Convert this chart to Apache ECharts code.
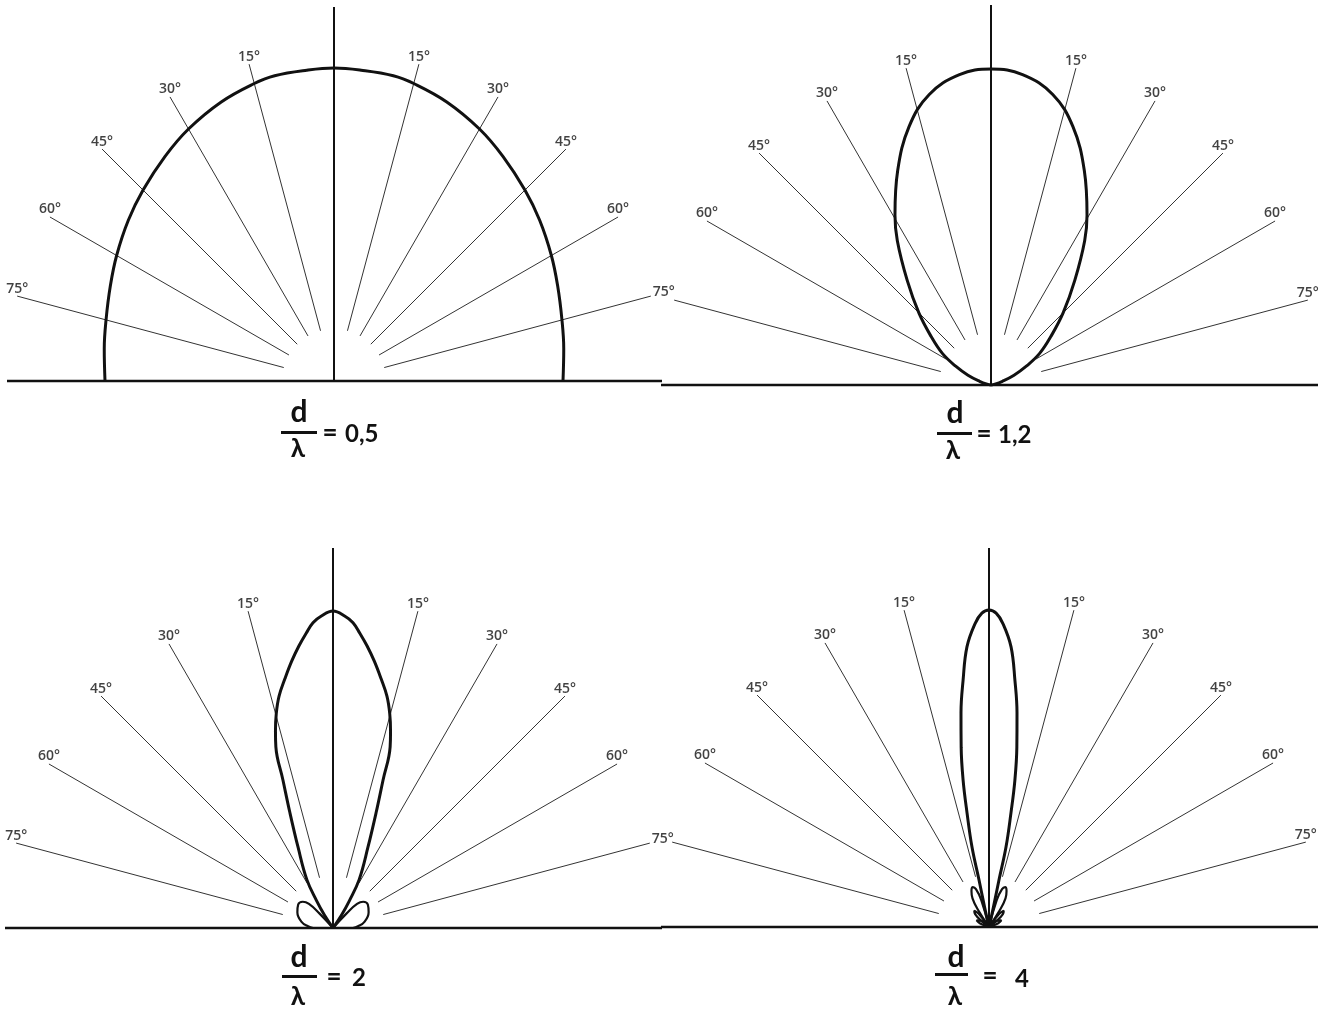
<!DOCTYPE html>
<html>
<head>
<meta charset="utf-8">
<title>Diagrammes de rayonnement</title>
<script src="https://cdn.jsdelivr.net/npm/echarts@6/dist/echarts.min.js"></script>
<style>
  html, body { margin: 0; padding: 0; background: #fff; }
  #chart { width: 1336px; height: 1014px; }
</style>
</head>
<body>
<div id="chart"></div>
<script>
// angles of the graduated spokes (degrees from the vertical)
const spokeAngles = [15, 30, 45, 60, 75];
const spokeInner = 52;
const spokeOuter = 328;

// right half of each main lobe: [angle, radius]
const main05 = [[0, 313], [5, 312], [11, 311], [15, 308], [22, 301], [30, 291], [37, 281], [45, 270],
  [52, 261], [60, 251], [67, 243], [75, 236], [82, 232], [90, 229]];
const main12 = [[0, 316], [5.8, 312], [12, 297], [17.6, 271], [23.5, 234], [29.5, 195], [33, 172],
  [38.7, 134], [45, 102], [51, 77], [57, 58], [62, 40], [67, 25], [72, 12], [78, 4], [82, 0]];
const main2 = [[0, 317], [2.2, 312], [3.75, 306], [5.2, 296], [6.9, 284], [8.8, 270], [10.9, 254],
  [13.1, 238], [14.8, 222], [16.3, 205], [17.5, 190], [18.7, 156], [20.5, 123], [23.4, 88],
  [28.4, 55], [31, 32], [33.5, 15], [34, 0]];
const main4 = [[0, 317], [1.3, 314], [2.6, 304], [4.5, 281], [6, 248], [7.45, 216], [8.8, 182],
  [10, 149], [10.9, 116], [12, 82], [12, 48], [12.5, 20], [13, 0]];

// side lobes (right side), each one on its own
const side2 = [
  [[41, 0], [43, 20], [45, 34], [49, 40], [56, 42], [66, 39], [79, 32], [86, 25], [90, 20]]
];
const side4 = [
  [[15, 0], [16, 28], [19, 40], [22, 43], [26, 40], [30, 33], [33, 18], [35, 0]],
  [[35, 0], [38, 17], [42, 22], [47, 19], [51, 9], [53, 0]],
  [[53, 0], [57, 12], [62, 14], [68, 10], [72, 0]]
];

const ratioTexts = ['0,5', '1,2', '2', '4'];
const mastHeights = [374, 380, 380, 379];
const baseLeft = [327, 330, 328, 328];
const baseRight = [328, 327, 329, 329];

// page layout of the four diagrams
const layout = [
  { center: [334, 381], main: main05, side: [], d: [299, 412], bar: [281, 431, 36], lam: [298, 449], eq: [330, 433], val: [345, 434] },
  { center: [991, 385], main: main12, side: [], d: [955, 413], bar: [937, 432, 35], lam: [953, 451], eq: [984, 434], val: [998, 435] },
  { center: [333, 928], main: main2, side: side2, d: [299, 957], bar: [282, 975, 35], lam: [298, 997], eq: [334, 977], val: [352, 978] },
  { center: [989, 927], main: main4, side: side4, d: [956, 957], bar: [935, 973, 33], lam: [955, 997], eq: [990, 976], val: [1015, 979] }
];

// the "75°" between two diagrams is written once, by the left diagram
const sharedLabels = [[1, -75], [3, -75]];
const sharedOffset = [13, 3];

function mirror(half) {
  const left = half.slice().reverse().filter(p => p[0] !== 0).map(p => [p[1], -p[0]]);
  const right = half.map(p => [p[1], p[0]]);
  return left.concat(right);
}

const ink = '#111';
const series = [];
const graphic = [];

function polarLine(i, data, style, smooth) {
  return {
    type: 'line', coordinateSystem: 'polar', polarIndex: i, symbol: 'none', clip: false,
    smooth: smooth || false, data: data, lineStyle: style
  };
}

layout.forEach((l, i) => {
  // ground line and vertical axis
  series.push(polarLine(i, [[baseLeft[i], -90], [0, 0], [baseRight[i], 90]], { color: ink, width: 2.6 }));
  series.push(polarLine(i, [[0, 0], [mastHeights[i], 0]], { color: ink, width: 2 }));

  const all = spokeAngles.map(a => -a).reverse().concat(spokeAngles);
  all.forEach(a => {
    series.push(polarLine(i, [[spokeInner, a], [spokeOuter, a]], { color: '#333', width: 1 }));
  });
  const labels = all
    .filter(a => !sharedLabels.some(s => s[0] === i && s[1] === a))
    .map(a => {
      const item = { value: [spokeOuter, a], name: Math.abs(a) + '°' };
      if (sharedLabels.some(s => s[0] === i + 1 && s[1] === -a)) {
        item.label = { offset: sharedOffset };
      }
      return item;
    });
  series.push({
    type: 'scatter', coordinateSystem: 'polar', polarIndex: i, symbolSize: 1, clip: false,
    itemStyle: { color: 'rgba(0,0,0,0)' },
    data: labels,
    label: {
      show: true, position: 'top', distance: 0, formatter: '{b}',
      color: '#111', fontSize: 14, fontWeight: 600, fontFamily: 'Open Sans'
    }
  });

  // radiation pattern
  series.push(polarLine(i, mirror(l.main), { color: ink, width: 3 }, 0.4));
  l.side.forEach(s => {
    series.push(polarLine(i, s.map(p => [p[1], p[0]]), { color: ink, width: 2.2 }, 0.45));
    series.push(polarLine(i, s.map(p => [p[1], -p[0]]), { color: ink, width: 2.2 }, 0.45));
  });

  // d / lambda = value
  const txt = (pos, text, size, align) => ({
    type: 'text', x: pos[0], y: pos[1], silent: true,
    style: {
      text: text, fill: ink, fontSize: size, fontWeight: 'bold', fontFamily: 'Lato',
      align: align, textAlign: align, verticalAlign: 'middle', textVerticalAlign: 'middle'
    }
  });
  graphic.push(txt(l.d, 'd', 30, 'center'));
  graphic.push({
    type: 'rect', silent: true,
    shape: { x: l.bar[0], y: l.bar[1], width: l.bar[2], height: 3 },
    style: { fill: ink }
  });
  graphic.push(txt(l.lam, 'λ', 26, 'center'));
  graphic.push(txt(l.eq, '=', 26, 'center'));
  graphic.push(txt(l.val, ratioTexts[i], 24, 'left'));
});

const chart = echarts.init(document.getElementById('chart'));
chart.setOption({
  backgroundColor: '#fff',
  animation: false,
  polar: layout.map(l => ({ center: l.center, radius: 400 })),
  angleAxis: layout.map((l, i) => ({
    polarIndex: i, type: 'value', min: -180, max: 180, startAngle: 270, clockwise: true,
    show: false, axisLine: { show: false }, axisLabel: { show: false },
    axisTick: { show: false }, splitLine: { show: false }
  })),
  radiusAxis: layout.map((l, i) => ({
    polarIndex: i, type: 'value', min: 0, max: 400,
    show: false, axisLine: { show: false }, axisLabel: { show: false },
    axisTick: { show: false }, splitLine: { show: false }
  })),
  series: series,
  graphic: graphic
});
</script>
</body>
</html>
